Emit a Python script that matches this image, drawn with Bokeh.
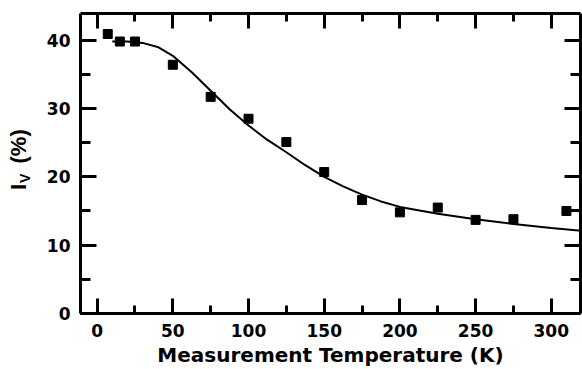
import math
from bokeh.plotting import figure
from bokeh.layouts import row
from bokeh.models import Range1d, LinearAxis, SingleIntervalTicker, CustomJSTickFormatter
from bokeh.core.properties import value
from bokeh.embed import file_html
from bokeh.resources import INLINE

# measured points
temp_pts = [7, 15, 25, 50, 75, 100, 125, 150, 175, 200, 225, 250, 275, 310]
iv_pts = [40.9, 39.8, 39.8, 36.4, 31.7, 28.5, 25.1, 20.7, 16.6, 14.8, 15.5, 13.7, 13.8, 15.0]

# fitted curve
fit_temp = [10, 20, 30, 40, 50, 62.5, 75, 87.5, 100, 112.5, 125, 137.5, 150,
            162.5, 175, 187.5, 200, 225, 250, 275, 300, 320]
fit_iv = [39.8, 39.8, 39.6, 39.0, 37.7, 35.3, 32.6, 29.9, 27.5, 25.4, 23.6, 21.7, 20.0,
          18.6, 17.4, 16.4, 15.6, 14.6, 13.8, 13.1, 12.5, 12.1]

x_label = "Measurement Temperature (K)"
y_label_parts = ["I", "V", "(%)"]

TICK_FONT = "DejaVu Sans"
LAB_FONT = "Liberation Sans"

p = figure(width=542, height=369, x_range=Range1d(-11, 319.3), y_range=Range1d(0, 43.9),
           output_backend="svg", toolbar_location=None,
           min_border_left=40, min_border_right=2, min_border_top=13, min_border_bottom=56)
p.outline_line_color = None
for g in p.grid:
    g.visible = False
p.background_fill_color = "white"
p.border_fill_color = "white"


def style(ax, labels=True):
    ax.axis_line_width = 3
    ax.axis_line_color = "black"
    ax.major_tick_line_width = 3
    ax.minor_tick_line_width = 3
    ax.major_tick_line_color = "black"
    ax.minor_tick_line_color = "black"
    ax.major_tick_out = 0
    ax.minor_tick_out = 0
    ax.major_tick_in = 15
    ax.minor_tick_in = 8
    ax.major_label_text_font = TICK_FONT
    ax.major_label_text_font_style = "bold"
    ax.major_label_text_font_size = "17px"
    ax.major_label_text_color = "black"
    if not labels:
        ax.formatter = CustomJSTickFormatter(code="return ''")
        ax.major_label_standoff = 0


xax = p.xaxis[0]
xax.ticker = SingleIntervalTicker(interval=50, num_minor_ticks=2)
style(xax)
xax.major_label_standoff = 10
xax.axis_label = x_label
xax.axis_label_text_font = TICK_FONT
xax.axis_label_text_font_style = "bold"
xax.axis_label_text_font_size = "20px"
xax.axis_label_text_color = "black"
xax.axis_label_standoff = 3

yax = p.yaxis[0]
yax.ticker = SingleIntervalTicker(interval=10, num_minor_ticks=2)
style(yax)
yax.major_tick_in = 16
yax.minor_tick_in = 10
yax.major_label_standoff = 10

top = LinearAxis(ticker=SingleIntervalTicker(interval=50, num_minor_ticks=2))
style(top, labels=False)
p.add_layout(top, "above")

right = LinearAxis(ticker=SingleIntervalTicker(interval=10, num_minor_ticks=2))
style(right, labels=False)
right.major_tick_in = 16
right.minor_tick_in = 10
p.add_layout(right, "right")

p.line(fit_temp, fit_iv, line_color="black", line_width=2)
p.scatter(temp_pts, iv_pts, marker="square", size=9, fill_color="black", line_color="black")

# narrow panel holding the rotated y-axis title (I with subscript V, then (%))
# its frame is 40 x 369 pixels, so its ranges are pixel positions from the bottom-left
lab = figure(frame_width=40, frame_height=369, x_range=Range1d(0, 40), y_range=Range1d(0, 369),
             output_backend="svg", toolbar_location=None, title=None,
             min_border_left=0, min_border_right=0, min_border_top=0, min_border_bottom=0,
             x_axis_location=None, y_axis_location=None)
lab.outline_line_color = None
for g in lab.grid:
    g.visible = False
lab.text(x=[18], y=[192.5], text=[y_label_parts[0]], angle=math.pi / 2,
         text_font=value(LAB_FONT), text_font_style="bold", text_font_size="22px",
         text_baseline="alphabetic", text_align="left", text_color="black")
lab.text(x=[24], y=[199.5], text=[y_label_parts[1]], angle=math.pi / 2,
         text_font=value(LAB_FONT), text_font_style="bold", text_font_size="14px",
         text_baseline="alphabetic", text_align="left", text_color="black")
lab.text(x=[18], y=[219], text=[y_label_parts[2]], angle=math.pi / 2,
         text_font=value(LAB_FONT), text_font_style="bold", text_font_size="22px",
         text_baseline="alphabetic", text_align="left", text_color="black")

layout = row(lab, p, spacing=0)
open("out.html", "w").write(file_html(layout, INLINE))
